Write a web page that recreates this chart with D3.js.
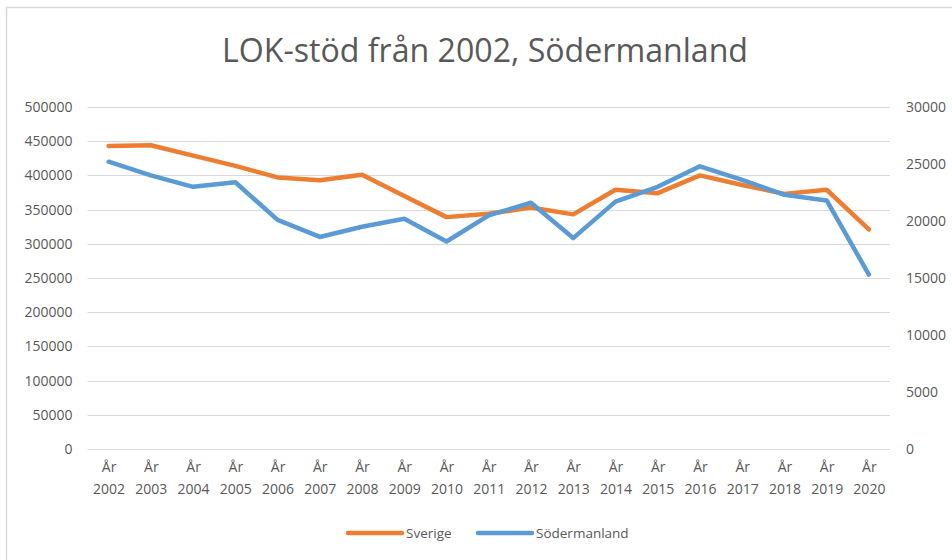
<!DOCTYPE html>
<html>
<head>
<meta charset="utf-8">
<script src="https://cdn.jsdelivr.net/npm/d3@7"></script>
<style>
  html, body { margin: 0; padding: 0; background: #fff; }
  svg { display: block; }
</style>
</head>
<body>
<div id="chart"></div>
<script>
const years = ['2002', '2003', '2004', '2005', '2006', '2007', '2008', '2009', '2010', '2011',
    '2012', '2013', '2014', '2015', '2016', '2017', '2018', '2019', '2020'];
// Sverige on the left axis, Södermanland on the right axis
const sverige = [443000, 444000, 429000, 414000, 397000, 393000, 401000, 370000, 339000, 344000,
    353000, 343000, 379000, 374000, 400000, 386000, 373000, 379000, 321000];
const sodermanland = [25200, 24000, 23000, 23400, 20100, 18600, 19500, 20200, 18200, 20500,
    21600, 18500, 21700, 23000, 24800, 23600, 22300, 21800, 15300];
const leftTicks = [0, 50000, 100000, 150000, 200000, 250000, 300000, 350000, 400000, 450000, 500000];
const rightTicks = [0, 5000, 10000, 15000, 20000, 25000, 30000];
const seriesNames = ['Sverige', 'Södermanland'];

const width = 952;
const height = 560;
const plot = { left: 87.5, right: 890, top: 107, bottom: 449 };
const textColor = '#595959';
const gridColor = '#d9d9d9';
const colors = ['#ED7D31', '#5B9BD5'];
const font = '"Open Sans", "Noto Sans", sans-serif';

const svg = d3.select('#chart').append('svg')
    .attr('width', width)
    .attr('height', height)
    .style('font-family', font);

// chart frame (runs off the right and bottom edges)
svg.append('rect')
    .attr('x', 6.5)
    .attr('y', 7.5)
    .attr('width', 960)
    .attr('height', 570)
    .attr('fill', '#fff')
    .attr('stroke', gridColor)
    .attr('stroke-width', 1.5);

const title = svg.append('text')
    .attr('x', 485)
    .attr('y', 62)
    .attr('text-anchor', 'middle')
    .attr('fill', textColor)
    .style('font-size', '30px')
    .text('LOK-stöd från 2002, Södermanland');
// scale title to the width seen in the reference
const tw = title.node().getComputedTextLength();
title.style('font-size', (30 * 526 / tw) + 'px');

const x = d3.scalePoint()
    .domain(years)
    .range([plot.left, plot.right])
    .padding(0.5);

const yLeft = d3.scaleLinear()
    .domain([0, 500000])
    .range([plot.bottom, plot.top]);

const yRight = d3.scaleLinear()
    .domain([0, 30000])
    .range([plot.bottom, plot.top]);

// gridlines
svg.append('g')
    .selectAll('line')
    .data(leftTicks)
    .enter()
    .append('line')
    .attr('x1', plot.left)
    .attr('x2', plot.right)
    .attr('y1', d => Math.round(yLeft(d)) + 0.5)
    .attr('y2', d => Math.round(yLeft(d)) + 0.5)
    .attr('stroke', gridColor)
    .attr('stroke-width', 1);

// left axis
const leftAxis = svg.append('g')
    .attr('transform', `translate(${plot.left - 15},0)`)
    .call(d3.axisLeft(yLeft).tickValues(leftTicks).tickSize(0).tickPadding(0).tickFormat(d3.format('d')));
leftAxis.select('.domain').remove();
leftAxis.selectAll('text')
    .attr('fill', textColor)
    .style('font-size', '14px')
    .style('font-family', font);

// right axis
const rightAxis = svg.append('g')
    .attr('transform', `translate(${plot.right + 16},0)`)
    .call(d3.axisRight(yRight).tickValues(rightTicks).tickSize(0).tickPadding(0).tickFormat(d3.format('d')));
rightAxis.select('.domain').remove();
rightAxis.selectAll('text')
    .attr('fill', textColor)
    .style('font-size', '14px')
    .style('font-family', font);

// x axis labels, two lines
const xAxis = svg.append('g')
    .attr('transform', `translate(0,${plot.bottom})`)
    .call(d3.axisBottom(x).tickSize(0).tickFormat(''));
xAxis.select('.domain').remove();
xAxis.selectAll('.tick text').remove();
const xLabels = xAxis.selectAll('.tick')
    .append('text')
    .attr('text-anchor', 'middle')
    .attr('fill', textColor)
    .style('font-size', '14px')
    .style('font-family', font);
xLabels.append('tspan').attr('x', 0).attr('y', 23).text('År');
xLabels.append('tspan').attr('x', 0).attr('y', 45).text(d => d);

// lines
const lineLeft = d3.line()
    .x((d, i) => x(years[i]))
    .y(d => yLeft(d));
const lineRight = d3.line()
    .x((d, i) => x(years[i]))
    .y(d => yRight(d));

svg.append('path')
    .datum(sverige)
    .attr('d', lineLeft)
    .attr('fill', 'none')
    .attr('stroke', colors[0])
    .attr('stroke-width', 4.5)
    .attr('stroke-linecap', 'round')
    .attr('stroke-linejoin', 'round');

svg.append('path')
    .datum(sodermanland)
    .attr('d', lineRight)
    .attr('fill', 'none')
    .attr('stroke', colors[1])
    .attr('stroke-width', 4.5)
    .attr('stroke-linecap', 'round')
    .attr('stroke-linejoin', 'round');

// legend
const legendY = 533;
const legendX = [348, 478];
const legend = svg.selectAll('.legend-item')
    .data(seriesNames)
    .enter()
    .append('g')
    .attr('class', 'legend-item')
    .attr('transform', (d, i) => `translate(${legendX[i]},${legendY})`);

legend.append('line')
    .attr('x1', 0)
    .attr('x2', 54)
    .attr('y1', 0)
    .attr('y2', 0)
    .attr('stroke', (d, i) => colors[i])
    .attr('stroke-width', 4.5)
    .attr('stroke-linecap', 'round');

legend.append('text')
    .attr('x', 58)
    .attr('y', 5)
    .attr('fill', textColor)
    .style('font-size', '13.5px')
    .text(d => d);
</script>
</body>
</html>
